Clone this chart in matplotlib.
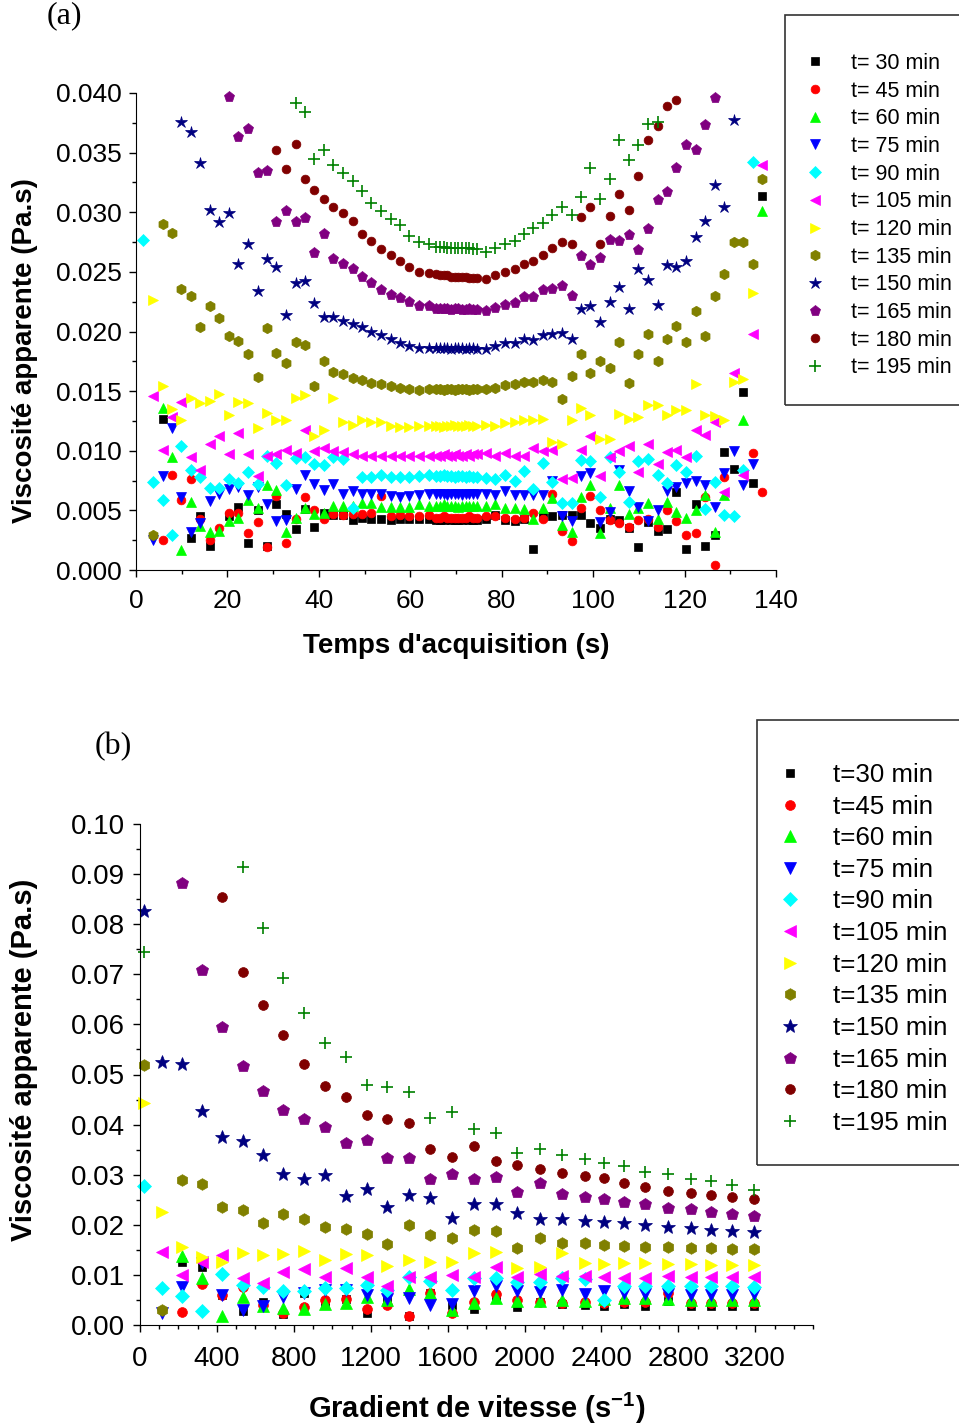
import numpy as np
import matplotlib
matplotlib.use("Agg")
import matplotlib.pyplot as plt
from matplotlib.patches import Rectangle
from matplotlib.ticker import MultipleLocator, FormatStrFormatter

plt.rcParams['font.family'] = ['Liberation Sans', 'DejaVu Sans']
plt.rcParams['mathtext.fontset'] = 'custom'
plt.rcParams['mathtext.rm'] = 'Liberation Sans'
plt.rcParams['mathtext.bf'] = 'Liberation Sans:bold'

nan = np.nan

# ---------------- (a) viscosity vs acquisition time ----------------
t_acq = [1.6, 3.7, 5.8, 7.8, 9.9, 12.0, 14.1, 16.2, 18.2, 20.3, 22.4, 24.5, 26.6, 28.6, 30.7,
         32.8, 34.9, 37.0, 39.0, 41.1, 43.2, 45.3, 47.4, 49.4, 51.5, 53.6, 55.7, 57.8, 59.8, 61.9, 64.0,
         65.7, 66.5, 67.3, 68.1, 68.9, 69.7, 70.5, 71.3, 72.1, 72.9, 73.7, 74.5,
         76.5, 78.6, 80.7, 82.8, 84.8, 86.9, 89.0, 91.1, 93.2, 95.3, 97.4, 99.4, 101.5, 103.6, 105.7,
         107.8, 109.9, 112.0, 114.1, 116.1, 118.2, 120.3, 122.4, 124.5, 126.6, 128.7, 130.8, 132.8, 134.9, 137.0]

a_30 = [nan, nan, 0.0127, nan, nan, 0.0027, 0.0045, 0.0020, nan, 0.0045, 0.0053, 0.0023, 0.0050, 0.0020, 0.0055,
        0.0047, 0.0034, 0.0051, 0.0036, 0.0048, 0.0046, 0.0046, 0.0042, 0.0044, 0.0043, 0.0043, 0.0042, 0.0043, 0.0043, 0.0043, 0.0043,
        0.0042, 0.0042, 0.0042, 0.0043, 0.0042, 0.0042, 0.0042, 0.0042, 0.0043, 0.0042, 0.0042, 0.0042,
        0.0043, 0.0046, 0.0042, 0.0041, 0.0043, 0.0018, 0.0045, 0.0045, 0.0046, 0.0046, 0.0046, 0.0039, 0.0035, 0.0043, 0.0042,
        0.0035, 0.0019, 0.0040, 0.0033, 0.0034, 0.0065, 0.0018, 0.0055, 0.0020, 0.0029, 0.0099, 0.0085, 0.0149, 0.0073, 0.0314]
a_45 = [nan, nan, 0.0025, 0.0080, 0.0059, 0.0076, 0.0043, 0.0025, 0.0035, 0.0048, 0.0048, 0.0031, 0.0040, 0.0019, 0.0062,
        0.0023, 0.0043, 0.0061, 0.0050, 0.0043, 0.0047, 0.0046, 0.0047, 0.0047, 0.0048, 0.0062, 0.0045, 0.0046, 0.0045, 0.0045, 0.0046,
        0.0044, 0.0044, 0.0045, 0.0044, 0.0044, 0.0044, 0.0044, 0.0044, 0.0044, 0.0045, 0.0044, 0.0044,
        0.0045, 0.0045, 0.0044, 0.0043, 0.0044, 0.0048, 0.0043, 0.0064, 0.0033, 0.0024, 0.0052, 0.0062, 0.0050, 0.0042, 0.0039,
        0.0036, 0.0042, 0.0043, 0.0036, 0.0050, 0.0041, 0.0029, 0.0031, 0.0061, 0.0004, 0.0078, nan, nan, 0.0098, 0.0065]
a_60 = [nan, nan, 0.0136, 0.0095, 0.0017, 0.0057, 0.0037, 0.0032, 0.0033, 0.0041, 0.0044, 0.0059, 0.0052, 0.0071, 0.0067,
        0.0032, 0.0044, 0.0052, 0.0047, 0.0048, 0.0054, 0.0054, 0.0054, 0.0056, 0.0056, 0.0053, 0.0053, 0.0053, 0.0053, 0.0055, 0.0054,
        0.0054, 0.0054, 0.0055, 0.0054, 0.0054, 0.0054, 0.0053, 0.0054, 0.0054, 0.0054, 0.0054, 0.0054,
        0.0054, 0.0055, 0.0052, 0.0052, 0.0051, 0.0043, 0.0052, 0.0060, 0.0038, 0.0032, 0.0061, 0.0071, 0.0031, 0.0052, 0.0071,
        0.0047, 0.0052, 0.0056, 0.0043, 0.0057, 0.0049, 0.0044, 0.0050, 0.0063, 0.0032, 0.0063, nan, 0.0126, nan, 0.0301]
a_75 = [nan, 0.0025, 0.0079, 0.0119, 0.0061, 0.0032, 0.0039, 0.0058, 0.0064, 0.0068, 0.0070, 0.0063, 0.0070, 0.0055, 0.0041,
        0.0042, 0.0068, 0.0080, 0.0072, 0.0067, 0.0072, 0.0064, 0.0066, 0.0064, 0.0064, 0.0064, 0.0062, 0.0061, 0.0062, 0.0063, 0.0064,
        0.0064, 0.0064, 0.0064, 0.0063, 0.0064, 0.0064, 0.0064, 0.0063, 0.0064, 0.0064, 0.0064, 0.0064,
        0.0064, 0.0063, 0.0066, 0.0063, 0.0063, 0.0063, 0.0063, 0.0075, 0.0045, 0.0041, 0.0079, 0.0081, 0.0040, 0.0049, 0.0084,
        0.0066, 0.0053, 0.0041, 0.0050, 0.0066, 0.0070, 0.0073, 0.0075, 0.0071, 0.0053, 0.0081, 0.0100, 0.0071, 0.0089, nan]
a_90 = [0.0277, 0.0074, 0.0059, 0.0029, 0.0104, 0.0084, 0.0078, 0.0069, 0.0069, 0.0076, 0.0073, 0.0082, 0.0072, 0.0096, 0.0090,
        0.0071, 0.0094, 0.0095, 0.0089, 0.0088, 0.0095, 0.0093, 0.0052, 0.0078, 0.0078, 0.0080, 0.0078, 0.0078, 0.0078, 0.0079, 0.0080,
        0.0079, 0.0079, 0.0080, 0.0079, 0.0079, 0.0078, 0.0079, 0.0079, 0.0078, 0.0079, 0.0078, 0.0078,
        0.0077, 0.0076, 0.0080, 0.0075, 0.0083, 0.0068, 0.0090, 0.0074, 0.0056, 0.0056, 0.0092, 0.0091, 0.0061, 0.0095, 0.0082,
        0.0057, 0.0091, 0.0093, 0.0080, 0.0073, 0.0088, 0.0082, 0.0096, 0.0051, 0.0074, 0.0046, 0.0045, 0.0084, 0.0342, nan]
a_105 = [nan, 0.0146, 0.0101, 0.0128, 0.0141, 0.0095, 0.0084, 0.0106, 0.0112, 0.0097, 0.0115, 0.0097, 0.0079, 0.0096, 0.0097,
         0.0101, 0.0098, 0.0117, 0.0100, 0.0102, 0.0100, 0.0099, 0.0097, 0.0096, 0.0096, 0.0096, 0.0096, 0.0096, 0.0096, 0.0096, 0.0096,
         0.0096, 0.0096, 0.0097, 0.0096, 0.0096, 0.0097, 0.0096, 0.0096, 0.0097, 0.0096, 0.0097, 0.0097,
         0.0098, 0.0096, 0.0098, 0.0096, 0.0096, 0.0102, 0.0100, 0.0101, 0.0076, 0.0077, 0.0101, 0.0112, 0.0079, 0.0095, 0.0100,
         0.0104, 0.0082, 0.0106, 0.0089, 0.0099, 0.0101, 0.0095, 0.0117, 0.0113, 0.0124, 0.0065, 0.0165, 0.0080, 0.0198, 0.0340]
a_120 = [nan, 0.0226, 0.0154, 0.0135, 0.0126, 0.0144, 0.0140, 0.0142, 0.0148, 0.0130, 0.0141, 0.0140, 0.0119, 0.0132, 0.0126,
         0.0126, 0.0144, 0.0147, 0.0112, 0.0117, 0.0144, 0.0124, 0.0122, 0.0126, 0.0124, 0.0124, 0.0121, 0.0120, 0.0120, 0.0121, 0.0121,
         0.0121, 0.0121, 0.0120, 0.0121, 0.0121, 0.0122, 0.0121, 0.0121, 0.0121, 0.0122, 0.0121, 0.0121,
         0.0122, 0.0121, 0.0123, 0.0124, 0.0126, 0.0126, 0.0127, 0.0107, 0.0106, 0.0126, 0.0136, 0.0130, 0.0110, 0.0110, 0.0131,
         0.0127, 0.0128, 0.0138, 0.0138, 0.0130, 0.0134, 0.0134, 0.0156, 0.0130, 0.0129, 0.0126, 0.0158, 0.0160, 0.0232, nan]
a_135 = [nan, 0.0029, 0.0290, 0.0283, 0.0236, 0.0230, 0.0204, 0.0221, 0.0211, 0.0196, 0.0192, 0.0181, 0.0162, 0.0203, 0.0182,
         0.0174, 0.0191, 0.0189, 0.0154, 0.0175, 0.0166, 0.0164, 0.0161, 0.0159, 0.0157, 0.0156, 0.0154, 0.0153, 0.0152, 0.0151, 0.0152,
         0.0152, 0.0152, 0.0151, 0.0152, 0.0152, 0.0151, 0.0152, 0.0152, 0.0152, 0.0151, 0.0152, 0.0152,
         0.0152, 0.0153, 0.0155, 0.0156, 0.0158, 0.0158, 0.0159, 0.0158, 0.0143, 0.0163, 0.0181, 0.0165, 0.0175, 0.0169, 0.0191,
         0.0157, 0.0181, 0.0198, 0.0175, 0.0194, 0.0205, 0.0191, 0.0217, 0.0196, 0.0230, 0.0248, 0.0275, 0.0275, 0.0257, 0.0328]
a_150 = [nan, nan, nan, nan, 0.0376, 0.0367, 0.0341, 0.0302, 0.0292, 0.0299, 0.0257, 0.0273, 0.0234, 0.0261, 0.0254,
         0.0214, 0.0241, 0.0242, 0.0224, 0.0212, 0.0212, 0.0209, 0.0206, 0.0204, 0.0200, 0.0197, 0.0194, 0.0190, 0.0188, 0.0186, 0.0186,
         0.0186, 0.0186, 0.0186, 0.0186, 0.0185, 0.0186, 0.0186, 0.0186, 0.0185, 0.0186, 0.0186, 0.0185,
         0.0185, 0.0188, 0.0190, 0.0190, 0.0194, 0.0193, 0.0197, 0.0198, 0.0199, 0.0194, 0.0219, 0.0221, 0.0208, 0.0225, 0.0237,
         0.0219, 0.0252, 0.0243, 0.0222, 0.0256, 0.0254, 0.0259, 0.0279, 0.0293, 0.0323, 0.0304, 0.0377, nan, nan, nan]
a_165 = [nan, nan, nan, nan, nan, nan, nan, nan, nan, 0.0397, 0.0363, 0.0370, 0.0333, 0.0335, 0.0292,
         0.0301, 0.0292, 0.0295, 0.0266, 0.0282, 0.0261, 0.0257, 0.0252, 0.0246, 0.0241, 0.0235, 0.0231, 0.0228, 0.0225, 0.0221, 0.0221,
         0.0219, 0.0219, 0.0219, 0.0219, 0.0218, 0.0219, 0.0219, 0.0218, 0.0218, 0.0219, 0.0218, 0.0218,
         0.0217, 0.0220, 0.0222, 0.0224, 0.0229, 0.0229, 0.0235, 0.0236, 0.0238, 0.0230, 0.0263, 0.0256, 0.0262, 0.0277, 0.0276,
         0.0281, 0.0268, 0.0286, 0.0310, 0.0317, 0.0337, 0.0356, 0.0352, 0.0373, 0.0396, nan, nan, nan, nan, nan]
a_180 = [nan, nan, nan, nan, nan, nan, nan, nan, nan, nan, nan, nan, nan, nan, 0.0352,
         0.0336, 0.0357, 0.0328, 0.0319, 0.0311, 0.0304, 0.0299, 0.0293, 0.0282, 0.0276, 0.0269, 0.0264, 0.0259, 0.0254, 0.0250, 0.0249,
         0.0248, 0.0247, 0.0247, 0.0247, 0.0246, 0.0246, 0.0246, 0.0246, 0.0246, 0.0245, 0.0245, 0.0245,
         0.0244, 0.0247, 0.0250, 0.0252, 0.0257, 0.0259, 0.0264, 0.0270, 0.0275, 0.0273, 0.0296, 0.0304, 0.0273, 0.0297, 0.0315,
         0.0302, 0.0330, 0.0361, 0.0372, 0.0389, 0.0394, nan, nan, nan, nan, nan, nan, nan, nan, nan]
a_195 = [nan, nan, nan, nan, nan, nan, nan, nan, nan, nan, nan, nan, nan, nan, nan,
         nan, 0.0392, 0.0384, 0.0345, 0.0352, 0.0340, 0.0333, 0.0326, 0.0318, 0.0308, 0.0301, 0.0294, 0.0289, 0.0280, 0.0275, 0.0273,
         0.0271, 0.0271, 0.0271, 0.0270, 0.0270, 0.0270, 0.0270, 0.0270, 0.0270, 0.0270, 0.0269, 0.0269,
         0.0267, 0.0270, 0.0273, 0.0276, 0.0282, 0.0287, 0.0291, 0.0298, 0.0304, 0.0298, 0.0313, 0.0337, 0.0311, 0.0328, 0.0361,
         0.0344, 0.0356, 0.0374, 0.0376, nan, nan, nan, nan, nan, nan, nan, nan, nan, nan, nan]

# ---------------- (b) viscosity vs shear rate ----------------
shear_rate = [21, 116, 218, 323, 429, 534, 640, 744, 852, 960, 1072, 1178, 1285, 1397, 1508,
              1622, 1738, 1850, 1962, 2078, 2195, 2313, 2412, 2519, 2628, 2746, 2865, 2969, 3078, 3195]

b_30 = [nan, nan, 0.0126, 0.0115, 0.0060, 0.0027, 0.0045, 0.0021, 0.0064, 0.0043, 0.0051, 0.0024, 0.0050, 0.0018, 0.0063,
        0.0040, 0.0031, 0.0058, 0.0035, 0.0045, 0.0042, 0.0040, 0.0038, 0.0042, 0.0038, 0.0047, 0.0038, 0.0038, 0.0038, 0.0038]
b_45 = [nan, nan, 0.0025, 0.0081, 0.0060, 0.0076, 0.0040, 0.0023, 0.0035, 0.0050, 0.0051, 0.0031, 0.0040, 0.0018, 0.0063,
        0.0023, 0.0045, 0.0062, 0.0050, 0.0045, 0.0043, 0.0045, 0.0043, 0.0045, 0.0045, 0.0063, 0.0043, 0.0043, 0.0043, 0.0043]
b_60 = [nan, nan, 0.0138, 0.0093, 0.0018, 0.0056, 0.0037, 0.0033, 0.0031, 0.0042, 0.0043, 0.0056, 0.0050, 0.0071, 0.0064,
        0.0030, 0.0043, 0.0053, 0.0047, 0.0047, 0.0050, 0.0047, 0.0051, 0.0053, 0.0053, 0.0051, 0.0050, 0.0049, 0.0049, 0.0049]
b_75 = [nan, 0.0023, 0.0076, 0.0123, 0.0060, 0.0030, 0.0037, 0.0056, 0.0064, 0.0070, 0.0070, 0.0060, 0.0051, 0.0054, 0.0040,
        0.0042, 0.0067, 0.0077, 0.0067, 0.0065, 0.0070, 0.0062, 0.0067, 0.0063, 0.0062, 0.0062, 0.0060, 0.0060, 0.0060, 0.0062]
b_90 = [0.0277, 0.0073, 0.0058, 0.0028, 0.0102, 0.0080, 0.0076, 0.0067, 0.0067, 0.0074, 0.0073, 0.0080, 0.0070, 0.0095, 0.0088,
        0.0069, 0.0094, 0.0094, 0.0085, 0.0085, 0.0093, 0.0091, 0.0050, 0.0077, 0.0077, 0.0077, 0.0077, 0.0077, 0.0077, 0.0075]
b_105 = [nan, 0.0146, 0.0100, 0.0125, 0.0140, 0.0094, 0.0083, 0.0105, 0.0111, 0.0096, 0.0113, 0.0096, 0.0077, 0.0095, 0.0096,
         0.0100, 0.0096, 0.0115, 0.0096, 0.0101, 0.0098, 0.0098, 0.0095, 0.0094, 0.0094, 0.0098, 0.0096, 0.0096, 0.0095, 0.0096]
b_120 = [0.0443, 0.0225, 0.0155, 0.0135, 0.0126, 0.0144, 0.0140, 0.0142, 0.0147, 0.0129, 0.0142, 0.0140, 0.0118, 0.0130, 0.0125,
         0.0125, 0.0143, 0.0146, 0.0113, 0.0116, 0.0143, 0.0123, 0.0122, 0.0123, 0.0123, 0.0122, 0.0121, 0.0120, 0.0120, 0.0120]
b_135 = [0.0518, 0.0029, 0.0290, 0.0282, 0.0235, 0.0229, 0.0203, 0.0221, 0.0211, 0.0196, 0.0191, 0.0181, 0.0162, 0.0200, 0.0180,
         0.0173, 0.0190, 0.0188, 0.0153, 0.0174, 0.0164, 0.0163, 0.0160, 0.0158, 0.0156, 0.0155, 0.0153, 0.0153, 0.0152, 0.0151]
b_150 = [0.0827, 0.0525, 0.0520, 0.0427, 0.0376, 0.0367, 0.0340, 0.0302, 0.0292, 0.0300, 0.0257, 0.0272, 0.0235, 0.0260, 0.0254,
         0.0213, 0.0241, 0.0242, 0.0224, 0.0212, 0.0212, 0.0208, 0.0205, 0.0203, 0.0200, 0.0196, 0.0193, 0.0190, 0.0188, 0.0186]
b_165 = [nan, nan, 0.0883, 0.0708, 0.0594, 0.0517, 0.0467, 0.0430, 0.0411, 0.0396, 0.0363, 0.0370, 0.0333, 0.0333, 0.0291,
         0.0301, 0.0291, 0.0295, 0.0266, 0.0283, 0.0261, 0.0255, 0.0251, 0.0246, 0.0241, 0.0234, 0.0231, 0.0225, 0.0221, 0.0218]
b_180 = [nan, nan, nan, nan, 0.0855, 0.0705, 0.0638, 0.0578, 0.0520, 0.0478, 0.0455, 0.0420, 0.0412, 0.0403, 0.0351,
         0.0336, 0.0358, 0.0328, 0.0319, 0.0311, 0.0304, 0.0298, 0.0293, 0.0283, 0.0276, 0.0268, 0.0264, 0.0259, 0.0256, 0.0251]
b_195 = [0.0744, nan, nan, nan, nan, 0.0914, 0.0792, 0.0692, 0.0622, 0.0562, 0.0534, 0.0480, 0.0475, 0.0465, 0.0413,
         0.0425, 0.0391, 0.0383, 0.0344, 0.0351, 0.0339, 0.0331, 0.0324, 0.0317, 0.0306, 0.0301, 0.0291, 0.0288, 0.0279, 0.0269]

times = [30, 45, 60, 75, 90, 105, 120, 135, 150, 165, 180, 195]
series_a = [a_30, a_45, a_60, a_75, a_90, a_105, a_120, a_135, a_150, a_165, a_180, a_195]
series_b = [b_30, b_45, b_60, b_75, b_90, b_105, b_120, b_135, b_150, b_165, b_180, b_195]

# marker style per series
markers = ['s', 'o', '^', 'v', 'D', '<', '>', 'h', '*', 'p', 'o', '+']
colors = ['black', '#ff0000', '#00ff00', '#0000ff', '#00ffff', '#ff00ff', '#ffff00',
          '#808000', '#000080', '#800080', '#800000', '#008000']
msize = [5.3, 6.3, 7.5, 7.5, 6.5, 7.5, 7.5, 7.5, 9, 8, 6.3, 8]

fig = plt.figure(figsize=(9.59, 14.25), dpi=100)
W, H = 959, 1425


def style_axes(ax, fs, xpad, ypad):
    ax.spines['top'].set_visible(False)
    ax.spines['right'].set_visible(False)
    ax.tick_params(which='both', direction='out', labelsize=fs)
    ax.tick_params(which='major', length=5, width=1)
    ax.tick_params(which='minor', length=3, width=1)
    ax.tick_params(axis='x', which='major', pad=xpad)
    ax.tick_params(axis='y', which='major', pad=ypad)


# ---- panel (a)
ax1 = fig.add_axes([136 / W, 1 - 570 / H, 640 / W, 477 / H])
for y, m, c, s in zip(series_a, markers, colors, msize):
    ax1.plot(t_acq, y, linestyle='none', marker=m, color=c, ms=s, mec=c,
             mew=1.2 if m == '+' else 0.5, clip_on=False)
ax1.set_xlim(0, 140)
ax1.set_ylim(0, 0.040)
ax1.xaxis.set_major_locator(MultipleLocator(20))
ax1.xaxis.set_minor_locator(MultipleLocator(10))
ax1.yaxis.set_major_locator(MultipleLocator(0.005))
ax1.yaxis.set_minor_locator(MultipleLocator(0.0025))
ax1.yaxis.set_major_formatter(FormatStrFormatter('%.3f'))
style_axes(ax1, 19, 8.5, 5.5)
ax1.set_xlabel("Temps d'acquisition (s)", fontsize=20, fontweight='bold')
ax1.set_ylabel('Viscosité apparente (Pa.s)', fontsize=20, fontweight='bold')
ax1.xaxis.set_label_coords(0.5, -0.132)
ax1.yaxis.set_label_coords(-0.153, 0.46)

labels_a = ['t= %d min' % t for t in times]
fig.patches.append(Rectangle((785 / W, 1 - 405 / H), 0.3, 390 / H, transform=fig.transFigure,
                             fill=False, edgecolor='#333333', lw=1.2))
fig.legend(ax1.get_lines(), labels_a, loc='upper left', bbox_to_anchor=(804 / W, 1 - 53 / H),
           frameon=False, fontsize=15.5, handlelength=1.0, handletextpad=1.17,
           labelspacing=0.31, borderpad=0, borderaxespad=0, numpoints=1)

fig.text(64 / W, 1 - 16 / H, '(a)', family=['Liberation Serif', 'DejaVu Serif'],
         fontsize=23, ha='center', va='center')

# ---- panel (b)
ax2 = fig.add_axes([140 / W, 1 - 1325 / H, 673 / W, 501 / H])
for y, m, c, s in zip(series_b, markers, colors, msize):
    ax2.plot(shear_rate, y, linestyle='none', marker=m, color=c, ms=s * 1.12, mec=c,
             mew=1.2 if m == '+' else 0.5, clip_on=False)
ax2.set_xlim(0, 3500)
ax2.set_ylim(0, 0.10)
ax2.xaxis.set_major_locator(MultipleLocator(400))
ax2.xaxis.set_minor_locator(MultipleLocator(100))
ax2.yaxis.set_major_locator(MultipleLocator(0.01))
ax2.yaxis.set_minor_locator(MultipleLocator(0.005))
ax2.yaxis.set_major_formatter(FormatStrFormatter('%.2f'))
style_axes(ax2, 20, 10, 6)
ax2.set_xticks([0, 400, 800, 1200, 1600, 2000, 2400, 2800, 3200])
ax2.set_xlabel(r'Gradient de vitesse (s$^{\mathbf{-1}}$)', fontsize=21, fontweight='bold')
ax2.set_ylabel('Viscosité apparente (Pa.s)', fontsize=21, fontweight='bold')
ax2.xaxis.set_label_coords(0.5, -0.132)
ax2.yaxis.set_label_coords(-0.152, 0.53)

labels_b = ['t=%d min' % t for t in times]
fig.patches.append(Rectangle((757 / W, 1 - 1165 / H), 0.3, 445 / H, transform=fig.transFigure,
                             fill=False, edgecolor='#333333', lw=1.2))
fig.legend(ax2.get_lines(), labels_b, loc='upper left', bbox_to_anchor=(777 / W, 1 - 763 / H),
           frameon=False, fontsize=18.6, handlelength=1.0, handletextpad=1.17,
           labelspacing=0.295, borderpad=0, borderaxespad=0, numpoints=1)

fig.text(113 / W, 1 - 747 / H, '(b)', family=['Liberation Serif', 'DejaVu Serif'],
         fontsize=23, ha='center', va='center')

fig.savefig('out.png', dpi=100)
